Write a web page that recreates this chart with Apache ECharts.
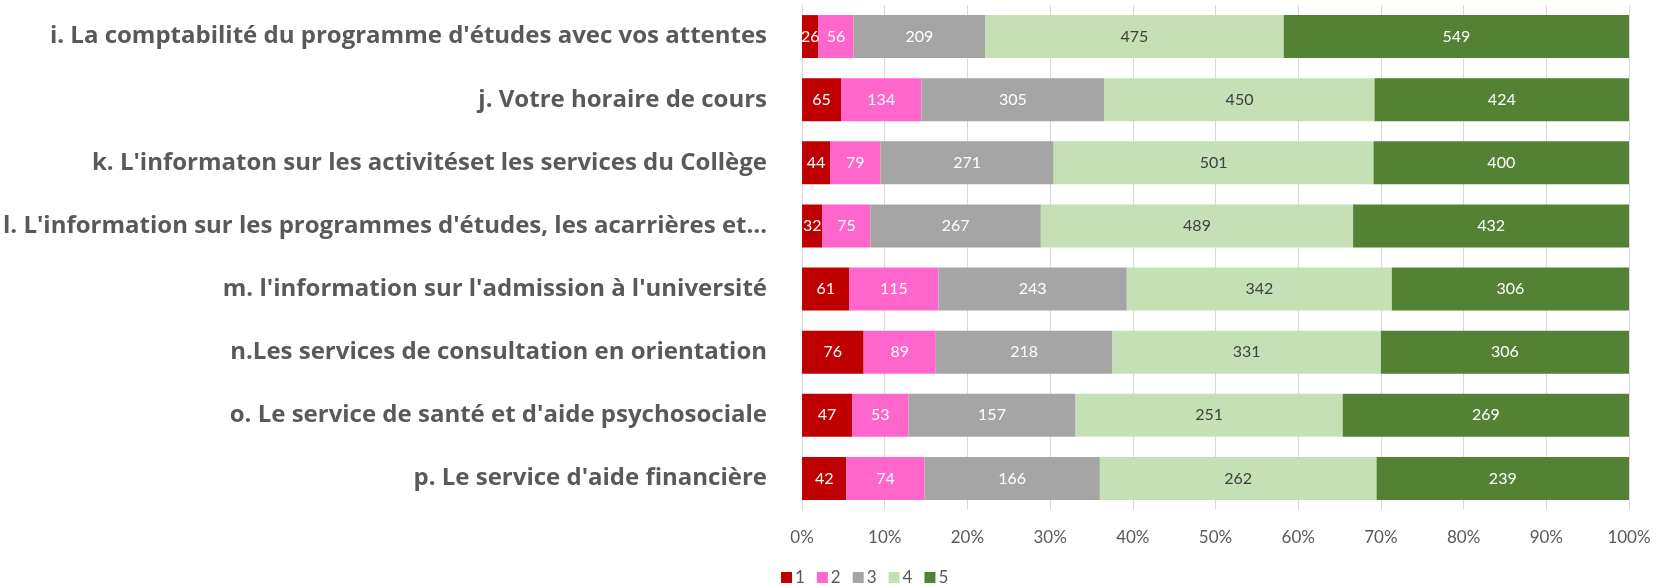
<!DOCTYPE html>
<html>
<head>
<meta charset="utf-8">
<script src="https://cdn.jsdelivr.net/npm/echarts@6/dist/echarts.min.js"></script>
<style>
  html, body { margin: 0; padding: 0; background: #fff; }
  #main { width: 1657px; height: 586px; }
</style>
</head>
<body>
<div id="main"></div>
<script>
// questions, top to bottom
const categories = [
    "i. La comptabilité du programme d'études avec vos attentes",
    "j. Votre horaire de cours",
    "k. L'informaton sur les activitéset les services du Collège",
    "l. L'information sur les programmes d'études, les acarrières et…",
    "m. l'information sur l'admission à l'université",
    "n.Les services de consultation en orientation",
    "o. Le service de santé et d'aide psychosociale",
    "p. Le service d'aide financière"
];
const seriesNames = ['1', '2', '3', '4', '5'];
const colors = ['#C00000', '#FF66CC', '#A5A5A5', '#C5E0B4', '#548235'];

// answer counts per level
const level1 = [26, 65, 44, 32, 61, 76, 47, 42];
const level2 = [56, 134, 79, 75, 115, 89, 53, 74];
const level3 = [209, 305, 271, 267, 243, 218, 157, 166];
const level4 = [475, 450, 501, 489, 342, 331, 251, 262];
const level5 = [549, 424, 400, 432, 306, 306, 269, 239];

const xTicks = [0, 0.1, 0.2, 0.3, 0.4, 0.5, 0.6, 0.7, 0.8, 0.9, 1];

const levels = [level1, level2, level3, level4, level5];
const totals = categories.map((c, i) => levels.reduce((s, arr) => s + arr[i], 0));

const labelColors = ['#fff', '#fff', '#fff', '#404040', '#fff'];

let series = levels.map((arr, k) => ({
    name: seriesNames[k],
    type: 'bar',
    stack: 'total',
    barCategoryGap: '32%',
    itemStyle: { color: colors[k] },
    label: {
        show: true,
        color: labelColors[k],
        fontFamily: 'Lato',
        fontSize: 16,
        formatter: p => arr[p.dataIndex]
    },
    emphasis: { disabled: true },
    data: arr.map((v, i) => v / totals[i])
}));

let myChart = echarts.init(document.getElementById('main'));
let option = {
    animation: false,
    color: colors,
    grid: { left: 799, right: 28, top: 5, bottom: 76 },
    legend: {
        data: seriesNames,
        left: 776,
        top: 564,
        itemWidth: 11,
        itemHeight: 11,
        itemGap: 12,
        icon: 'rect',
        textStyle: { color: '#595959', fontFamily: 'Lato', fontSize: 17, padding: [0, 0, 0, -2] }
    },
    xAxis: {
        type: 'value',
        min: 0,
        max: 1,
        interval: 0.1,
        axisLine: { show: false },
        axisTick: { show: false },
        splitLine: { lineStyle: { color: '#D9D9D9', width: 1 } },
        axisLabel: {
            color: '#595959',
            fontFamily: 'Lato',
            fontSize: 17,
            margin: 19,
            formatter: v => xTicks.indexOf(v) >= 0 ? Math.round(v * 100) + '%' : ''
        }
    },
    yAxis: {
        type: 'category',
        inverse: true,
        data: categories,
        axisLine: { show: true, lineStyle: { color: '#D9D9D9' } },
        axisTick: { show: false },
        axisLabel: {
            color: '#595959',
            fontFamily: 'Open Sans',
            fontWeight: 'bold',
            fontSize: 24,
            margin: 35
        }
    },
    series: series
};
myChart.setOption(option);
</script>
</body>
</html>
